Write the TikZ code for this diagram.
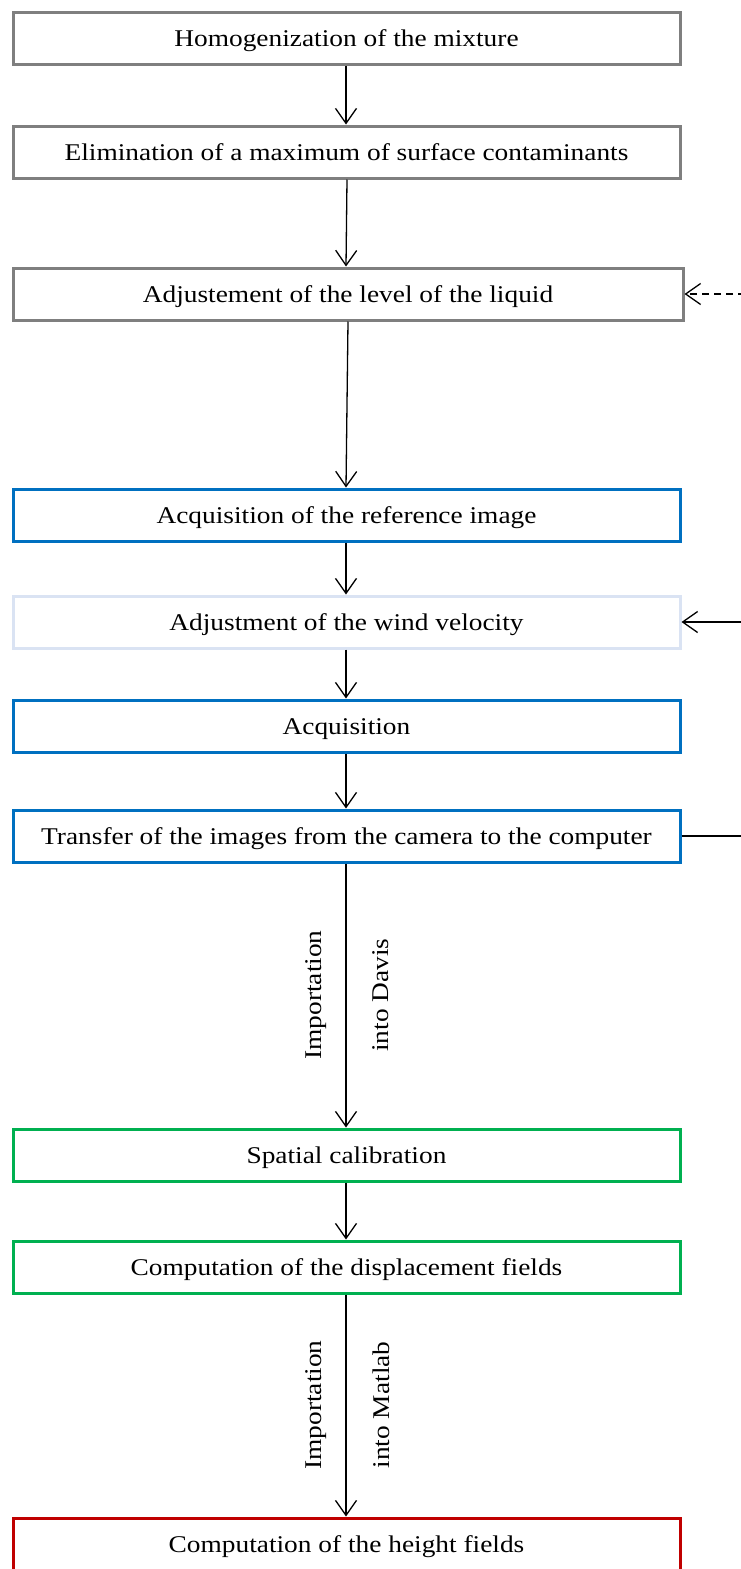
\documentclass[tikz,border=0pt]{standalone}
\usepackage{fontspec}
\setmainfont{Liberation Serif}[FakeStretch=1.14]
\usetikzlibrary{arrows.meta}
\definecolor{cgray}{HTML}{7F7F7F}
\definecolor{cblue}{HTML}{0070C0}
\definecolor{clight}{HTML}{DAE3F3}
\definecolor{cgreen}{HTML}{00B050}
\definecolor{cred}{HTML}{C00000}
\tikzset{
  stepbox/.style={draw=#1, line width=3pt, minimum width=667pt, minimum height=52pt, inner sep=0pt, font=\fontsize{24}{28}\selectfont, fill=white, text height=17pt, text depth=0pt},
  flow/.style={line width=1.3pt, -{Straight Barb[length=15pt,width=21pt,line width=1.3pt]}},
  lbl/.style={rotate=90, font=\fontsize{24}{28}\selectfont, inner sep=0pt}
}
\begin{document}
\begin{tikzpicture}[x=1pt,y=-1pt]
\useasboundingbox (0,0) rectangle (741,1569);
\clip (0,0) rectangle (741,1569);
\node[stepbox=cgray] (b1) at (346.5,38) {Homogenization of the mixture};
\node[stepbox=cgray] (b2) at (346.5,152) {Elimination of a maximum of surface contaminants};
\node[stepbox=cgray, minimum width=670pt] (b3) at (348,294) {Adjustement of the level of the liquid};
\node[stepbox=cblue] (b4) at (346.5,515) {Acquisition of the reference image};
\node[stepbox=clight] (b5) at (346.5,622) {Adjustment of the wind velocity};
\node[stepbox=cblue] (b6) at (346.5,726) {Acquisition};
\node[stepbox=cblue] (b7) at (346.5,836) {Transfer of the images from the camera to the computer};
\node[stepbox=cgreen] (b8) at (346.5,1155) {Spatial calibration};
\node[stepbox=cgreen] (b9) at (346.5,1267) {Computation of the displacement fields};
\node[stepbox=cred, minimum height=56pt] (b10) at (346.5,1546) {};
\node[font=\fontsize{24}{28}\selectfont, text height=17pt, text depth=0pt, inner sep=0pt] (t10) at (346.5,1544) {Computation of the height fields};
\coordinate (r3) at (745,294);
\coordinate (r5) at (745,622);
\coordinate (r7) at (745,836);
\draw[flow] (b1.south -| 346,0) -- (b2.north -| 346,0);
\draw[flow] (b2.south -| 347,0) -- (b3.north -| 346,0);
\draw[flow] (b3.south -| 348,0) -- (b4.north -| 346,0);
\draw[flow] (b4.south -| 346,0) -- (b5.north -| 346,0);
\draw[flow] (b5.south -| 346,0) -- (b6.north -| 346,0);
\draw[flow] (b6.south -| 346,0) -- (b7.north -| 346,0);
\draw[flow] (b7.south -| 346,0) -- (b8.north -| 346,0);
\draw[flow] (b8.south -| 346,0) -- (b9.north -| 346,0);
\draw[flow] (b9.south -| 346,0) -- (b10.north -| 346,0);
\draw[flow, dashed, dash pattern=on 7pt off 5pt] (r3) -- (b3.east);
\draw[flow] (r5) -- (b5.east);
\draw[line width=1.3pt] (b7.east) -- (r7);
\node[lbl] (l1) at (316,995) {Importation};
\node[lbl] (l2) at (381,995) {into Davis};
\node[lbl] (l3) at (316,1405) {Importation};
\node[lbl] (l4) at (381,1405) {into Matlab};
\end{tikzpicture}
\end{document}
